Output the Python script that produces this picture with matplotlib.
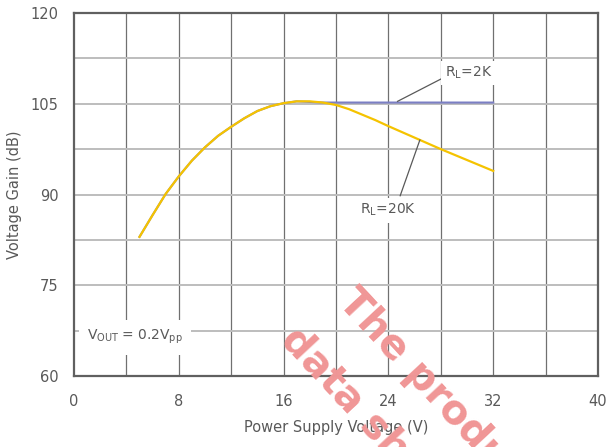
import numpy as np
import matplotlib.pyplot as plt

# supply voltage (V) and gain (dB) for the two loads
vs_20k = [5, 6, 7, 8, 9, 10, 11, 12, 13, 14, 15, 16, 17, 18, 19, 20, 21, 22,
          23, 24, 25, 26, 27, 28, 29, 30, 31, 32]
gain_20k = [83.0, 86.6, 90.1, 93.0, 95.6, 97.8, 99.7, 101.2, 102.6, 103.8,
            104.6, 105.1, 105.4, 105.4, 105.2, 104.8, 104.1, 103.2, 102.3,
            101.3, 100.35, 99.4, 98.45, 97.5, 96.6, 95.7, 94.8, 93.9]

vs_2k = [5, 6, 7, 8, 9, 10, 11, 12, 13, 14, 15, 16, 17, 18, 19, 20, 24, 28, 32]
gain_2k = [83.0, 86.6, 90.1, 93.0, 95.6, 97.8, 99.7, 101.2, 102.6, 103.8,
           104.6, 105.1, 105.4, 105.3, 105.2, 105.2, 105.2, 105.2, 105.2]

x_ticks = [0, 8, 16, 24, 32, 40]
y_ticks = [60, 75, 90, 105, 120]

TXT = '#595959'

fig = plt.figure(figsize=(6.06, 4.47), dpi=100)
ax = fig.add_axes([0.1221, 0.1588, 0.8647, 0.8121])

ax.set_xlim(0, 40)
ax.set_ylim(60, 120)

# grid: vertical every 4 V, horizontal every 7.5 dB
for xv in np.arange(4, 40, 4):
    ax.axvline(xv, color='#707070', lw=0.9, zorder=1)
for yv in np.arange(67.5, 120, 7.5):
    ax.axhline(yv, color='#bdbdbd', lw=1.4, zorder=1)

ax.plot(vs_2k, gain_2k, color='#7b7fc4', lw=1.5, zorder=3)
ax.plot(vs_20k, gain_20k, color='#f5c300', lw=1.6, zorder=4)

ax.set_xticks(x_ticks)
ax.set_yticks(y_ticks)
ax.tick_params(length=0, labelsize=10.5, labelcolor=TXT)
ax.tick_params(axis='x', pad=13)
ax.tick_params(axis='y', pad=11)
for s in ax.spines.values():
    s.set_color('#606060')
    s.set_linewidth(1.6)

ax.set_xlabel('Power Supply Voltage (V)', fontsize=10.5, color=TXT, labelpad=8)
ax.set_ylabel('Voltage Gain (dB)', fontsize=10.5, color=TXT, labelpad=6)

box = dict(facecolor='white', edgecolor='none', pad=3)

# load labels with leader lines
ax.plot([24.7, 28.2], [105.4, 109.3], color=TXT, lw=0.9, zorder=5)
ax.text(28.3, 110.1, r'R$_\mathregular{L}$=2K', fontsize=10, color=TXT,
        ha='left', va='center', bbox=box, zorder=6)

ax.plot([26.4, 24.9], [99.0, 89.8], color=TXT, lw=0.9, zorder=5)
ax.text(24.0, 87.4, r'R$_\mathregular{L}$=20K', fontsize=10, color=TXT,
        ha='center', va='center', bbox=box, zorder=6)

ax.text(1.0, 66.4, r'V$_\mathregular{OUT}$ = 0.2V$_\mathregular{pp}$',
        fontsize=10, color=TXT, ha='left', va='center',
        bbox=dict(facecolor='white', edgecolor='none', pad=6), zorder=6)

# diagonal stamp across the lower right
fig.text(337 / 606, 1 - 303 / 447, 'The product', fontsize=29, weight='bold',
         color='#f09696', rotation=-47, rotation_mode='anchor',
         ha='left', va='baseline', zorder=10)
fig.text(279 / 606, 1 - 341 / 447, 'data sheet', fontsize=29, weight='bold',
         color='#f09696', rotation=-47, rotation_mode='anchor',
         ha='left', va='baseline', zorder=10)

fig.savefig('out.png', dpi=100)
